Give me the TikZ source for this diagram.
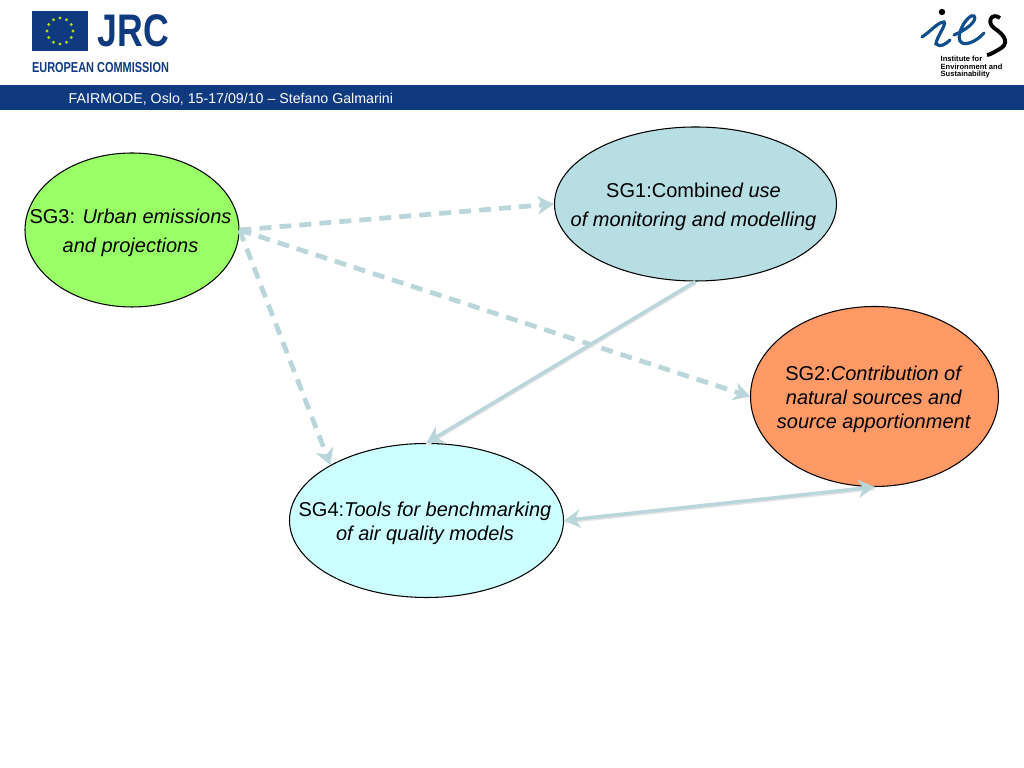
\documentclass[tikz,border=0pt]{standalone}
\usepackage{fontspec}
\setmainfont{Liberation Sans}
\usetikzlibrary{arrows.meta,shapes.geometric}
\definecolor{jrcblue}{HTML}{0F3A80}
\definecolor{linkblue}{HTML}{B9D6DB}
\definecolor{sgthree}{HTML}{99FF66}
\definecolor{sgone}{HTML}{B7DEE3}
\definecolor{sgtwo}{HTML}{FF9966}
\definecolor{sgfour}{HTML}{CCFFFF}
\tikzset{
  sgbubble/.style={draw=black, line width=0.3pt, ellipse, inner sep=0pt},
  sglabel/.style={inner sep=0pt, align=center},
  widegap/.style={sglabel, font=\fontsize{5.69}{8.25}\selectfont},
  narrowgap/.style={sglabel, font=\fontsize{5.69}{6.83}\selectfont},
  linktip/.tip={Stealth[length=4.6pt, width=5.2pt, inset=1.4pt]},
  solidlink/.style={draw=linkblue, line width=1pt, -{linktip},
    preaction={draw=gray!20, line width=1.15pt, -, transform canvas={yshift=-0.35pt}}},
  dashlink/.style={draw=linkblue, line width=1.35pt, -{linktip}, dash pattern=on 3.4pt off 2.3pt},
  logotext/.style={text=jrcblue, font=\bfseries, inner sep=0pt},
  iestext/.style={inner sep=0pt, align=left, font=\bfseries\fontsize{2.15}{2.25}\selectfont}
}
\begin{document}
\begin{tikzpicture}
  \useasboundingbox (0,0) rectangle (10.24,7.68);
  \fill[white] (0,0) rectangle (10.24,7.68);
  % banner
  \fill[jrcblue] (0,6.58) rectangle (10.24,6.83);
  \node[anchor=west, inner sep=0pt, text=white, font=\fontsize{4.04}{4.8}\selectfont] (banner) at (0.68,6.69) {FAIRMODE, Oslo, 15-17/09/10 -- Stefano Galmarini};
  % JRC logo
  \fill[jrcblue] (0.32,7.17) rectangle (0.88,7.57);
  \foreach \a in {0,30,...,330}
    \fill[yellow!70!green] ({0.6+0.13*cos(\a)},{7.37+0.13*sin(\a)}) circle (0.016);
  \node[logotext, anchor=center] (jrc) at (1.335,7.37) {\fontsize{13}{13}\selectfont\scalebox{0.78}[1]{JRC}};
  \node[logotext, anchor=center] (commission) at (1.005,7.005) {\fontsize{4.1}{4.1}\selectfont\scalebox{0.76}[1]{EUROPEAN COMMISSION}};
  % ies logo
  \fill[black] (9.42,7.56) circle (0.032);
  \draw[jrcblue!90!cyan, line width=0.9pt, line cap=round] (9.22,7.31) .. controls (9.3,7.36) and (9.38,7.46) .. (9.44,7.46)
    .. controls (9.47,7.44) and (9.36,7.3) .. (9.36,7.24)
    .. controls (9.4,7.2) and (9.46,7.24) .. (9.5,7.28);
  \draw[jrcblue!90!cyan, line width=0.9pt, line cap=round] (9.54,7.33) .. controls (9.66,7.38) and (9.78,7.47) .. (9.74,7.52)
    .. controls (9.69,7.55) and (9.56,7.36) .. (9.6,7.27)
    .. controls (9.64,7.21) and (9.76,7.26) .. (9.84,7.35);
  \draw[black, line width=1.1pt] (10.0,7.5) .. controls (9.92,7.56) and (9.86,7.46) .. (9.94,7.4)
    .. controls (10.06,7.32) and (10.1,7.24) .. (9.98,7.18)
    .. controls (9.94,7.16) and (9.9,7.13) .. (9.87,7.13);
  \node[iestext, anchor=north west] (ies) at (9.4,7.13) {Institute for\\Environment and\\Sustainability};
  % subgroups
  \node[sgbubble, fill=sgthree, minimum width=2.14cm, minimum height=1.54cm] (sg3) at (1.32,5.38) {};
  \node[sgbubble, fill=sgone, minimum width=2.82cm, minimum height=1.54cm] (sg1) at (6.955,5.64) {};
  \node[sgbubble, fill=sgtwo, minimum width=2.48cm, minimum height=1.8cm] (sg2) at (8.745,3.715) {};
  \node[sgbubble, fill=sgfour, minimum width=2.74cm, minimum height=1.54cm] (sg4) at (4.265,2.475) {};
  \node[widegap] (sg3text) at (1.305,5.35) {SG3: \emph{Urban emissions}\\\emph{and projections}};
  \node[widegap] (sg1text) at (6.935,5.61) {SG1:Combine\emph{d use}\\\emph{of monitoring and modelling}};
  \node[narrowgap] (sg2text) at (8.74,3.685) {SG2:\emph{Contribution of}\\\emph{natural sources and}\\\emph{source apportionment}};
  \node[narrowgap] (sg4text) at (4.25,2.445) {SG4:\emph{Tools for benchmarking}\\\emph{of air quality models}};
  % links
  \draw[dashlink] (sg3.east) -- (sg1.west);
  \draw[dashlink] (sg3.east) -- (sg2.west);
  \draw[dashlink] (sg3.east) -- (sg4.150);
  \draw[solidlink] (sg1.south) -- (sg4.north);
  \draw[solidlink, {linktip}-{linktip}] (sg4.east) -- (sg2.south);
\end{tikzpicture}
\end{document}
